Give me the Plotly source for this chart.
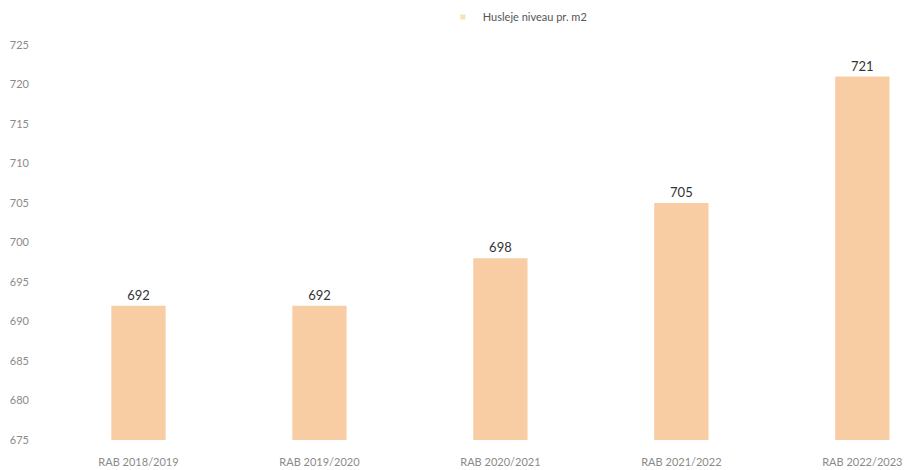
import plotly.graph_objects as go

categories = ["RAB 2018/2019", "RAB 2019/2020", "RAB 2020/2021", "RAB 2021/2022", "RAB 2022/2023"]
values = [692, 692, 698, 705, 721]
series_name = "Husleje niveau pr. m2"
tick_vals = [675, 680, 685, 690, 695, 700, 705, 710, 715, 720, 725]

fig = go.Figure()
fig.add_trace(go.Bar(
    x=categories, y=values, name=series_name,
    marker=dict(color="#F9CDA3", line=dict(width=0)),
    width=0.3,
    text=[str(v) for v in values], textposition="outside",
    textfont=dict(family="Lato", size=13, color="#333333"),
    cliponaxis=False,
    showlegend=False,
))
# legend entry with small faded square marker
fig.add_trace(go.Scatter(
    x=[None], y=[None], mode="markers", name=series_name,
    marker=dict(symbol="square", size=5, color="#F6E2B8"),
    showlegend=True,
))

fig.update_layout(
    width=913, height=470,
    margin=dict(l=48, r=0, t=45, b=30),
    paper_bgcolor="white", plot_bgcolor="white",
    font=dict(family="Lato", size=11, color="#8a8a8a"),
    showlegend=True,
    legend=dict(orientation="h", x=0.485, xanchor="left", xref="container",
                y=1 - 17 / 470, yanchor="middle", yref="container",
                font=dict(family="Lato", size=11, color="#555555"),
                itemwidth=30, bgcolor="rgba(0,0,0,0)"),
    xaxis=dict(type="category", range=[-0.5, 4.28], showgrid=False, showline=False,
               ticks="", ticklabelstandoff=14, tickfont=dict(size=11, color="#8a8a8a")),
    yaxis=dict(range=[675, 725], tickvals=tick_vals, showgrid=False, zeroline=False,
               showline=False, ticks="", ticklabelstandoff=18,
               tickfont=dict(size=11, color="#8a8a8a")),
)

fig.write_html("out.html")
